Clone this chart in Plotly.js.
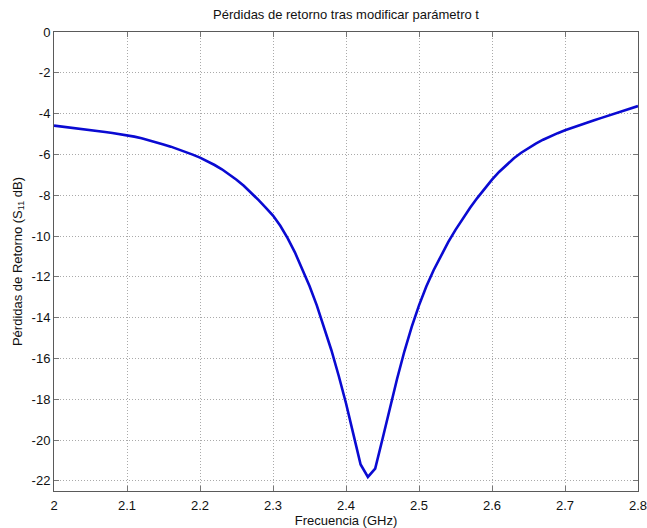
<!DOCTYPE html>
<html>
<head>
<meta charset="utf-8">
<script src="https://cdn.plot.ly/plotly-3.0.1.min.js"></script>
<style>html,body{margin:0;padding:0;background:#fff;}#chart{width:647px;height:528px;}</style>
</head>
<body>
<div id="chart"></div>
<script>
const freqGHz = [2.00,2.01,2.02,2.03,2.04,2.05,2.06,2.07,2.08,2.09,
  2.10,2.11,2.12,2.13,2.14,2.15,2.16,2.17,2.18,2.19,
  2.20,2.21,2.22,2.23,2.24,2.25,2.26,2.27,2.28,2.29,
  2.30,2.31,2.32,2.33,2.34,2.35,2.36,2.37,2.38,2.39,
  2.40,2.41,2.42,2.43,2.44,2.45,2.46,2.47,2.48,2.49,
  2.50,2.51,2.52,2.53,2.54,2.55,2.56,2.57,2.58,2.59,
  2.60,2.61,2.62,2.63,2.64,2.65,2.66,2.67,2.68,2.69,
  2.70,2.71,2.72,2.73,2.74,2.75,2.76,2.77,2.78,2.79,2.80];
const s11dB = [-4.59,-4.63,-4.67,-4.71,-4.75,-4.80,-4.85,-4.90,-4.95,-5.00,
  -5.06,-5.13,-5.21,-5.30,-5.40,-5.51,-5.62,-5.74,-5.87,-6.01,
  -6.16,-6.33,-6.52,-6.73,-6.97,-7.24,-7.54,-7.87,-8.23,-8.61,
  -9.00,-9.50,-10.10,-10.80,-11.60,-12.45,-13.40,-14.45,-15.60,-16.85,
  -18.20,-19.70,-21.20,-21.81,-21.40,-19.95,-18.45,-17.00,-15.65,-14.45,
  -13.40,-12.48,-11.68,-10.98,-10.30,-9.70,-9.14,-8.62,-8.13,-7.67,
  -7.24,-6.85,-6.50,-6.19,-5.92,-5.68,-5.47,-5.28,-5.11,-4.96,
  -4.82,-4.69,-4.57,-4.45,-4.33,-4.21,-4.09,-3.97,-3.86,-3.74,-3.63];
const xTickVals = [2,2.1,2.2,2.3,2.4,2.5,2.6,2.7,2.8];
const xTickText = ["2","2.1","2.2","2.3","2.4","2.5","2.6","2.7","2.8"];
const yTickVals = [0,-2,-4,-6,-8,-10,-12,-14,-16,-18,-20,-22];
const yTickText = ["0","-2","-4","-6","-8","-10","-12","-14","-16","-18","-20","-22"];

const fontFam = "Liberation Sans, Arial, sans-serif";
const txt = {family: fontFam, size: 13, color: '#111'};
const axisCommon = {
  showline: true, mirror: 'ticks', linecolor: '#5a5a5a', linewidth: 1,
  ticks: 'inside', ticklen: 5, tickcolor: '#777', tickwidth: 1,
  showgrid: true, gridcolor: '#aaaaaa', griddash: '1px,2px', gridwidth: 1,
  zeroline: false, tickfont: txt, ticklabeloverflow: 'allow'
};
Plotly.newPlot('chart', [{
  x: freqGHz, y: s11dB, type: 'scatter', mode: 'lines',
  line: {color: '#0a0ad2', width: 2.6}
}], {
  width: 647, height: 528,
  margin: {l: 54, r: 9, t: 32, b: 37, pad: 0},
  paper_bgcolor: '#fff', plot_bgcolor: '#fff',
  showlegend: false,
  font: txt,
  title: {text: 'Pérdidas de retorno tras modificar parámetro t', xref: 'paper', x: 0.5, xanchor: 'center', yref: 'container', y: 0.972, yanchor: 'middle', font: txt},
  xaxis: Object.assign({}, axisCommon, {
    range: [2, 2.8], tickvals: xTickVals, ticktext: xTickText, ticklabelstandoff: 2,
    title: {text: 'Frecuencia (GHz)', standoff: 1, font: txt}
  }),
  yaxis: Object.assign({}, axisCommon, {
    range: [-22.5, 0], tickvals: yTickVals, ticktext: yTickText,
    title: {text: 'Pérdidas de Retorno (S<sub>11</sub> dB)', standoff: 6, font: txt}
  })
}, {displayModeBar: false, staticPlot: true});
</script>
</body>
</html>
